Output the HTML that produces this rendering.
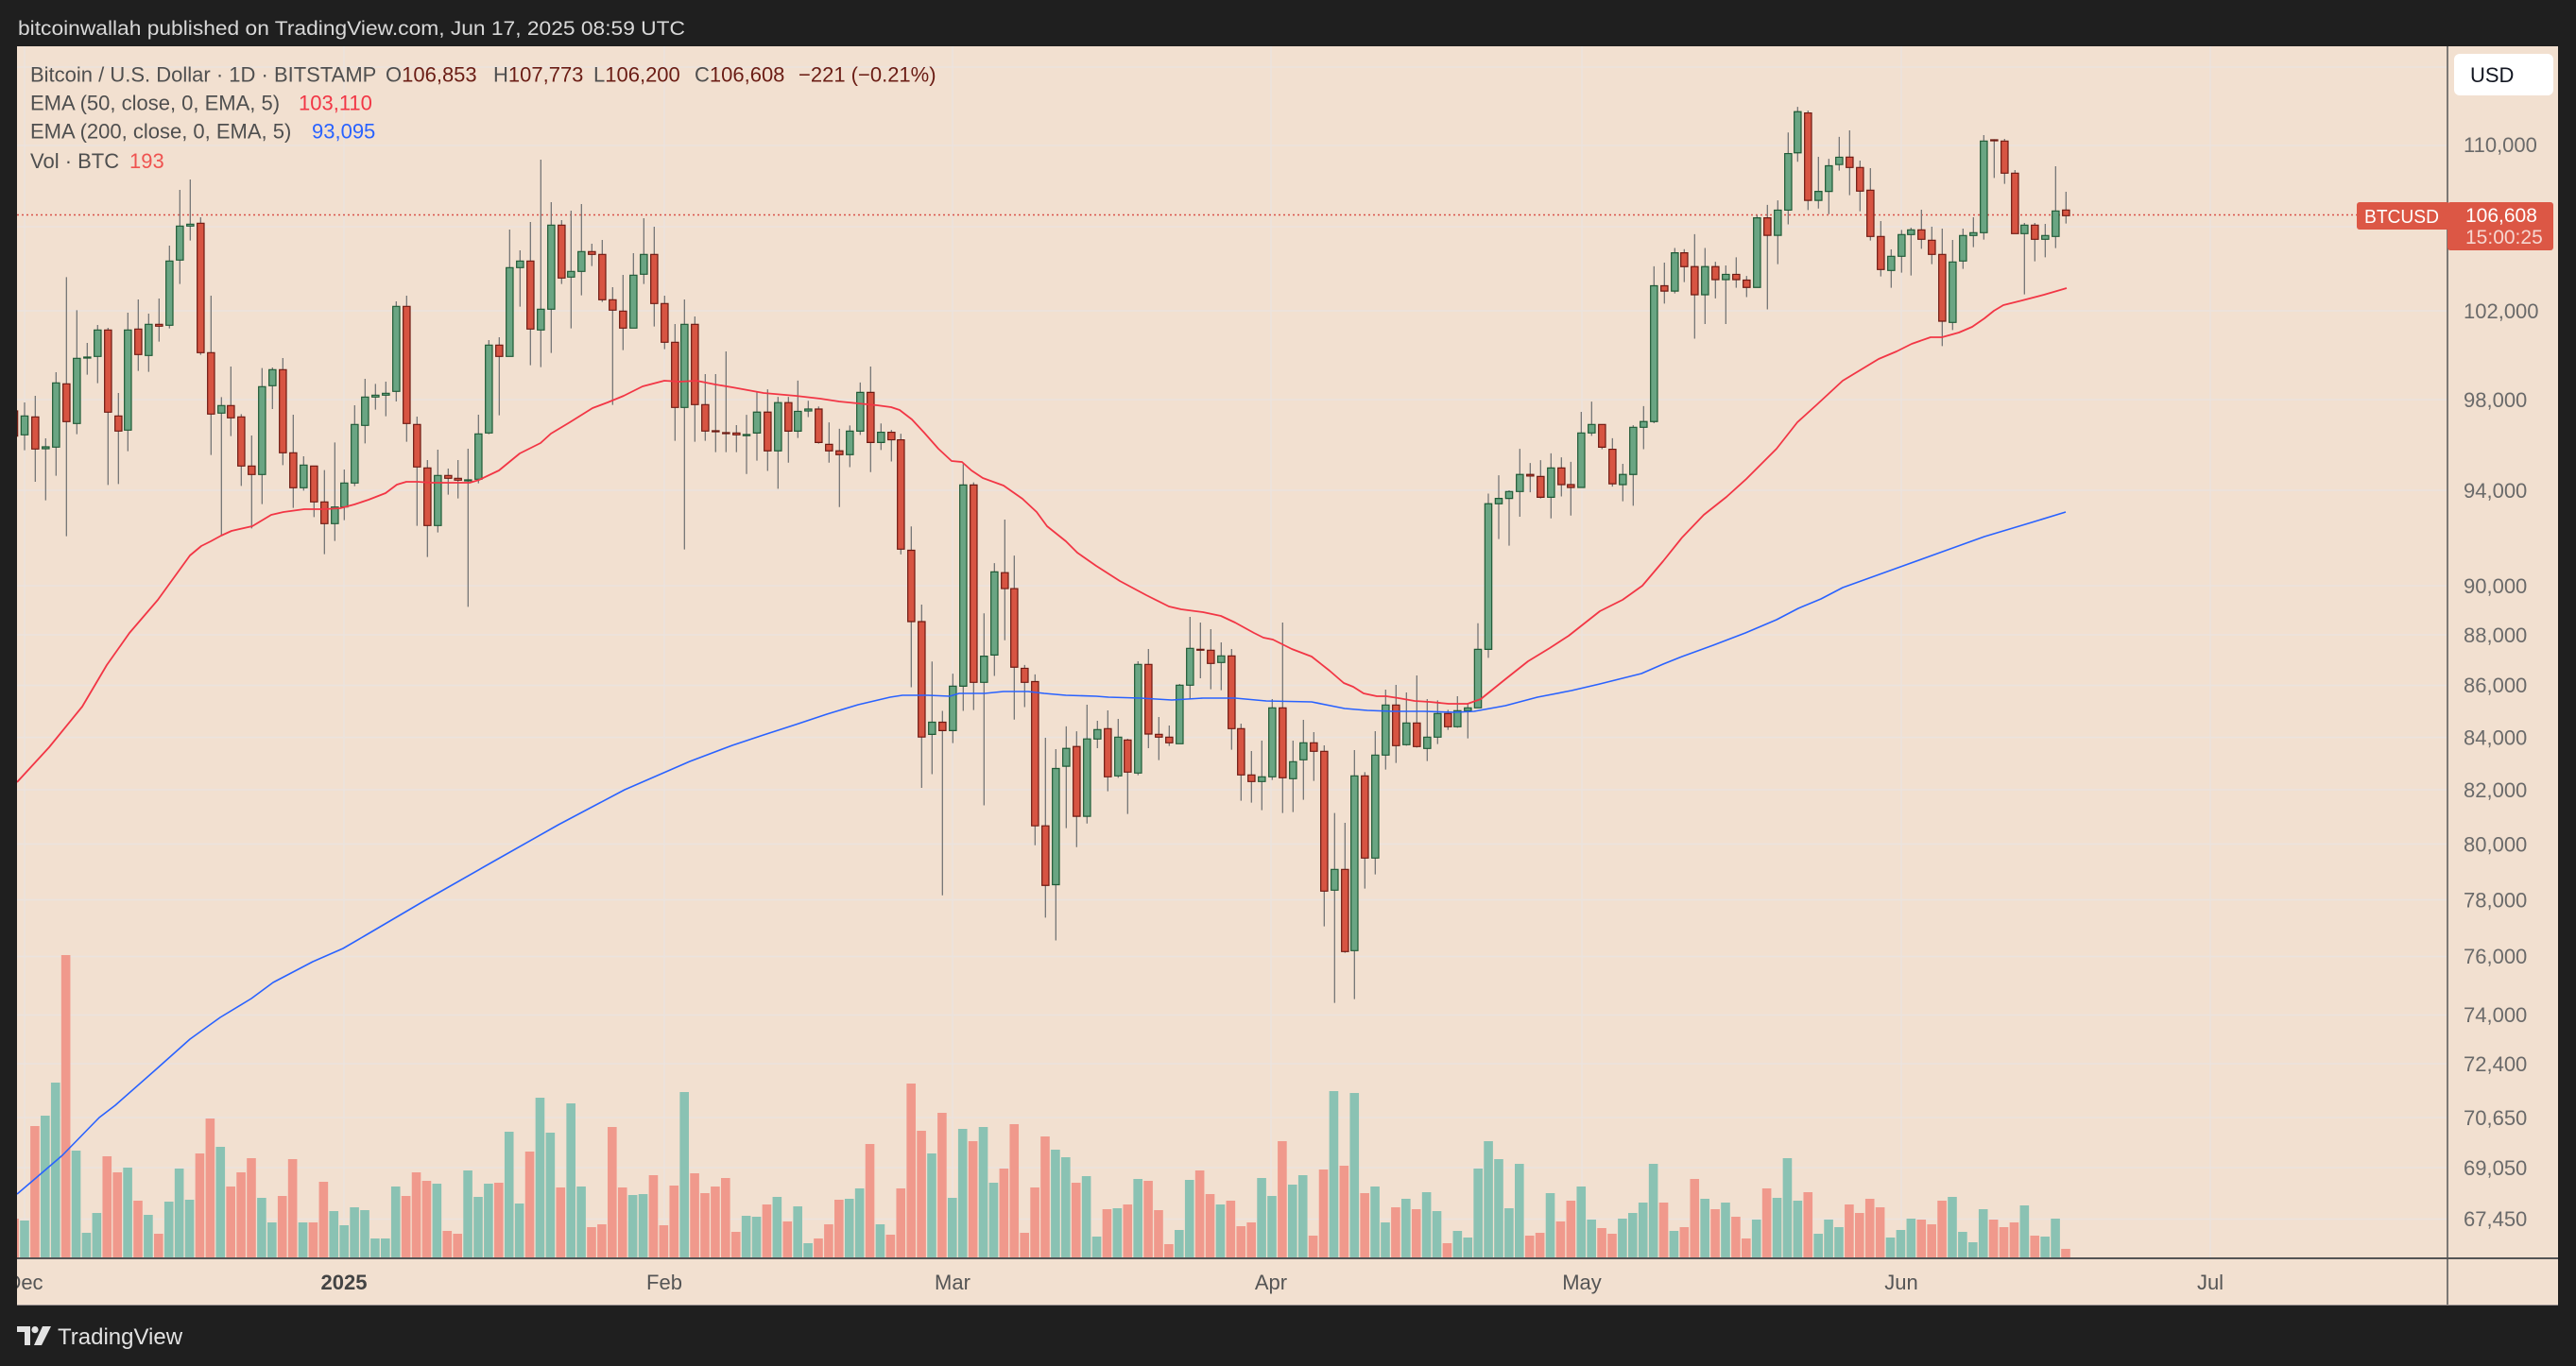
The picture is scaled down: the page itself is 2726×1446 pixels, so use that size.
<!DOCTYPE html>
<html><head><meta charset="utf-8"><style>
html,body{margin:0;padding:0;background:#1f1f1f;width:2726px;height:1446px;overflow:hidden}
svg{display:block;font-family:"Liberation Sans",Arial,sans-serif}
.w{fill:none;stroke:#767676;stroke-width:1.3px;vector-effect:non-scaling-stroke}
.u{fill:#6aa583;stroke:#1f5a36;stroke-width:1.2px;vector-effect:non-scaling-stroke}
.d{fill:#d75442;stroke:#6e1a12;stroke-width:1.2px;vector-effect:non-scaling-stroke}
.g{stroke:#ebe3de;stroke-width:1.5}
.lg{font-size:22px;fill:#4f4f4f}
.pa{font-size:22px;fill:#6a6a6a}
.ta{font-size:22px;fill:#555;text-anchor:middle}
</style></head><body>
<svg width="2726" height="1446" viewBox="0 0 2726 1446" xmlns="http://www.w3.org/2000/svg">
<defs>
<clipPath id="c"><rect x="18" y="49" width="2572" height="1283"/></clipPath>
<clipPath id="t"><rect x="18" y="1333" width="2572" height="49"/></clipPath>
</defs>
<rect width="2726" height="1446" fill="#1f1f1f"/>
<text x="19" y="37" font-size="21" fill="#d8d8d8" textLength="706" lengthAdjust="spacingAndGlyphs">bitcoinwallah published on TradingView.com, Jun 17, 2025 08:59 UTC</text>
<rect x="18" y="49" width="2689" height="1333" fill="#f2e0d0"/>
<g clip-path="url(#c)">
<g class="g">
<line x1="18" x2="2590" y1="71" y2="71"/><line x1="18" x2="2590" y1="154" y2="154"/><line x1="18" x2="2590" y1="240" y2="240"/><line x1="18" x2="2590" y1="329" y2="329"/><line x1="18" x2="2590" y1="423" y2="423"/><line x1="18" x2="2590" y1="519" y2="519"/><line x1="18" x2="2590" y1="620" y2="620"/><line x1="18" x2="2590" y1="672" y2="672"/><line x1="18" x2="2590" y1="725.5" y2="725.5"/><line x1="18" x2="2590" y1="780.5" y2="780.5"/><line x1="18" x2="2590" y1="836" y2="836"/><line x1="18" x2="2590" y1="893.5" y2="893.5"/><line x1="18" x2="2590" y1="952.5" y2="952.5"/><line x1="18" x2="2590" y1="1012.5" y2="1012.5"/><line x1="18" x2="2590" y1="1074.5" y2="1074.5"/><line x1="18" x2="2590" y1="1126" y2="1126"/><line x1="18" x2="2590" y1="1183" y2="1183"/><line x1="18" x2="2590" y1="1236" y2="1236"/><line x1="18" x2="2590" y1="1290.5" y2="1290.5"/>
<line y1="49" y2="1332" x1="26" x2="26"/><line y1="49" y2="1332" x1="364" x2="364"/><line y1="49" y2="1332" x1="703" x2="703"/><line y1="49" y2="1332" x1="1008" x2="1008"/><line y1="49" y2="1332" x1="1345" x2="1345"/><line y1="49" y2="1332" x1="1674" x2="1674"/><line y1="49" y2="1332" x1="2012" x2="2012"/><line y1="49" y2="1332" x1="2339" x2="2339"/>
</g>
<g transform="translate(26,990) scale(10.909,0.333333)" fill="none" stroke-width=".88">
<path stroke="#8ac2b3" d="M0 906V1100M2 573V1100M3 468V1100M5 684V1100M6 945V1100M7 882V1100M10 738V1100M12 888V1100M14 846V1100M15 741V1100M16 840V1100M19 672V1100M23 834V1100M24 912V1100M27 912V1100M30 876V1100M31 921V1100M32 864V1100M33 873V1100M34 963V1100M35 963V1100M36 798V1100M40 789V1100M43 747V1100M44 831V1100M45 789V1100M47 624V1100M48 852V1100M50 516V1100M51 627V1100M53 534V1100M54 798V1100M59 825V1100M60 822V1100M64 498V1100M70 891V1100M71 894V1100M73 831V1100M75 861V1100M76 978V1100M80 837V1100M81 804V1100M83 918V1100M88 693V1100M90 834V1100M91 615V1100M93 609V1100M94 786V1100M100 681V1100M101 705V1100M103 765V1100M104 957V1100M106 867V1100M108 774V1100M112 936V1100M113 777V1100M116 855V1100M120 771V1100M121 828V1100M123 792V1100M124 762V1100M127 495V1100M129 501V1100M131 798V1100M132 912V1100M134 837V1100M136 816V1100M137 876V1100M139 939V1100M140 960V1100M141 741V1100M142 654V1100M143 711V1100M144 867V1100M145 726V1100M148 819V1100M151 798V1100M152 903V1100M155 900V1100M156 882V1100M157 849V1100M158 726V1100M160 939V1100M163 837V1100M165 849V1100M168 903V1100M170 834V1100M171 708V1100M172 843V1100M174 948V1100M175 903V1100M176 927V1100M181 960V1100M182 936V1100M183 900V1100M187 831V1100M188 942V1100M189 975V1100M190 870V1100M194 858V1100M196 957V1100M197 900V1100"/>
<path stroke="#f0998c" d="M-1 900V1100M1 606V1100M4 63V1100M8 702V1100M9 753V1100M11 843V1100M13 948V1100M17 693V1100M18 582V1100M20 798V1100M21 753V1100M22 708V1100M25 828V1100M26 711V1100M28 912V1100M29 783V1100M37 828V1100M38 753V1100M39 780V1100M41 939V1100M42 948V1100M46 786V1100M49 687V1100M52 801V1100M55 927V1100M56 918V1100M57 609V1100M58 801V1100M61 762V1100M62 921V1100M63 795V1100M65 756V1100M66 819V1100M67 798V1100M68 771V1100M69 942V1100M72 855V1100M74 909V1100M77 963V1100M78 918V1100M79 840V1100M82 663V1100M84 951V1100M85 804V1100M86 471V1100M87 621V1100M89 564V1100M92 654V1100M95 741V1100M96 600V1100M97 945V1100M98 801V1100M99 639V1100M102 786V1100M105 870V1100M107 855V1100M109 780V1100M110 873V1100M111 981V1100M114 747V1100M115 822V1100M117 843V1100M118 924V1100M119 912V1100M122 654V1100M125 954V1100M126 744V1100M128 732V1100M130 819V1100M133 864V1100M135 870V1100M138 978V1100M146 954V1100M147 945V1100M149 909V1100M150 843V1100M153 930V1100M154 948V1100M159 849V1100M161 927V1100M162 774V1100M164 870V1100M166 894V1100M167 963V1100M169 804V1100M173 816V1100M177 855V1100M178 882V1100M179 837V1100M180 864V1100M184 903V1100M185 918V1100M186 843V1100M191 903V1100M192 927V1100M193 912V1100M195 954V1100M198 996V1100"/>
</g>
<line x1="18" x2="2494" y1="227.5" y2="227.5" stroke="#d9534a" stroke-width="1.5" stroke-dasharray="2 3"/>
<!-- Z6 -->
<g transform="translate(10,150) scale(.333333)">
<path class="w" d="M15 830V960M48 828V980M82 807V1080M115 942V1139M148 732V1061M181 430V1253M214 535V929M247 639V740M280 582V767M313 591V1090M346 798V1087M376 543V983M409 501V728M442 546V731M475 498V635M508 330V593M541 153V452M574 120V314M607 240V677M640 489V995M673 811V1250M703 714V935M736 865V1093M769 933V1228M802 719V1151M835 717V849M868 687V1027M901 867V1163M934 999V1108M967 1030V1192M1000 1043V1310M1033 955V1268M1063 1041V1202M1096 837V1094M1129 753V958M1162 769V851"/>
<path class="u" d="M48 871m-11 0h22V931h-22zM115 969m-11 0h22V975h-22zM148 766m-11 0h22V970h-22zM214 688m-11 0h22V895h-22zM247 684m-11 0h22V687h-22zM280 598m-11 0h22V682h-22zM376 598m-11 0h22V916h-22zM442 580m-11 0h22V679h-22zM508 379m-11 0h22V583h-22zM541 268m-11 0h22V376h-22zM574 262m-11 0h22V268h-22zM673 838m-11 0h22V862h-22zM802 778m-11 0h22V1057h-22zM835 724m-11 0h22V775h-22zM934 1027m-11 0h22V1099h-22zM1033 1160m-11 0h22V1213h-22zM1063 1084m-11 0h22V1160h-22zM1096 898m-11 0h22V1084h-22zM1129 811m-11 0h22V901h-22zM1162 805m-11 0h22V811h-22z"/>
<path class="d" d="M15 855m-11 0h22V935h-22zM82 874m-11 0h22V976h-22zM181 769m-11 0h22V889h-22zM313 598m-11 0h22V859h-22zM346 871m-11 0h22V919h-22zM409 595m-11 0h22V676h-22zM475 580m-11 0h22V586h-22zM607 259m-11 0h22V670h-22zM640 670m-11 0h22V865h-22zM703 838m-11 0h22V877h-22zM736 874m-11 0h22V1030h-22zM769 1030m-11 0h22V1057h-22zM868 724m-11 0h22V988h-22zM901 988m-11 0h22V1099h-22zM967 1030m-11 0h22V1144h-22zM1000 1144m-11 0h22V1213h-22z"/>
</g>
<!-- Z7 -->
<g transform="translate(390,150) scale(.333333)">
<path class="w" d="M55 762V872M88 507V825M121 489V953M154 873V1220M187 1011V1319M220 978V1241M253 1038V1121M284 1011V1133M316 975V1477M349 867V1085M382 630V929M415 621V869M448 279V682M481 345V524M514 255V710M547 57V716M580 192V671M613 249V452M643 219V593M676 198V488M709 324V395M742 312V509M775 462V836M808 423V662M841 354V592M874 243V452M907 270V587M940 489V659M973 579V950M1003 501V1295M1036 555V953M1069 738V950M1102 738V986M1135 666V986M1168 900V986"/>
<path class="u" d="M55 799m-11 0h22V805h-22zM88 523m-11 0h22V793h-22zM220 1060m-11 0h22V1219h-22zM316 1074m-11 0h22V1077h-22zM349 928m-11 0h22V1072h-22zM382 646m-11 0h22V925h-22zM448 400m-11 0h22V682h-22zM481 379m-11 0h22V400h-22zM547 532m-11 0h22V598h-22zM580 265m-11 0h22V532h-22zM643 412m-11 0h22V430h-22zM676 349m-11 0h22V412h-22zM841 424m-11 0h22V592h-22zM874 358m-11 0h22V421h-22zM1003 580m-11 0h22V844h-22z"/>
<path class="d" d="M121 523m-11 0h22V895h-22zM154 898m-11 0h22V1033h-22zM187 1036m-11 0h22V1219h-22zM253 1060m-11 0h22V1069h-22zM284 1069m-11 0h22V1075h-22zM415 646m-11 0h22V682h-22zM514 379m-11 0h22V595h-22zM613 265m-11 0h22V433h-22zM709 349m-11 0h22V358h-22zM742 358m-11 0h22V502h-22zM775 502m-11 0h22V535h-22zM808 538m-11 0h22V592h-22zM907 358m-11 0h22V514h-22zM940 514m-11 0h22V637h-22zM973 637m-11 0h22V844h-22zM1036 580m-11 0h22V835h-22zM1069 835m-11 0h22V919h-22zM1102 918m-11 0h22V921h-22zM1135 924m-11 0h22V927h-22zM1168 925m-11 0h22V931h-22z"/>
</g>
<!-- Z8 -->
<g transform="translate(775,380) scale(.333333,.401786)">
<path class="w" d="M45 147V303M78 87V268M112 80V295M145 100V342M178 100V273M208 57V208M241 110V153M274 125V223M307 167V273M340 184V390M373 175V285M406 62V200M439 20V298M472 170V240M505 187V270M535 197V515M568 441V865M601 647V1130M634 797V1094M667 927V1413M700 829V1012M733 277V927M766 325V925M799 670V1176M832 538V835M865 423V741M895 518V950M928 806V917M961 831V1281M994 998V1472M1027 1028V1532M1060 968V1236M1093 981V1286M1126 911V1224"/>
<path class="u" d="M45 199m-11 0h22V202h-22zM78 140m-11 0h22V195h-22zM145 115m-11 0h22V242h-22zM208 138m-11 0h22V190h-22zM241 132m-11 0h22V137h-22zM373 190m-11 0h22V252h-22zM406 88m-11 0h22V190h-22zM472 193m-11 0h22V220h-22zM634 957m-11 0h22V989h-22zM700 862m-11 0h22V979h-22zM733 332m-11 0h22V862h-22zM799 783m-11 0h22V852h-22zM832 561m-11 0h22V780h-22zM1027 1079m-11 0h22V1385h-22zM1060 1026m-11 0h22V1073h-22zM1126 1001m-11 0h22V1205h-22z"/>
<path class="d" d="M112 140m-11 0h22V242h-22zM178 115m-11 0h22V190h-22zM274 132m-11 0h22V220h-22zM307 225m-11 0h22V242h-22zM340 242m-11 0h22V252h-22zM439 88m-11 0h22V220h-22zM505 193m-11 0h22V213h-22zM535 213m-11 0h22V501h-22zM568 504m-11 0h22V692h-22zM601 692m-11 0h22V996h-22zM667 957m-11 0h22V979h-22zM766 332m-11 0h22V852h-22zM865 563m-11 0h22V605h-22zM895 605m-11 0h22V812h-22zM928 815m-11 0h22V852h-22zM961 850m-11 0h22V1230h-22zM994 1230m-11 0h22V1387h-22zM1093 1021m-11 0h22V1205h-22z"/>
</g>
<!-- Z9 -->
<g transform="translate(1140,630) scale(.333333)">
<path class="w" d="M64 399V486M97 366V623M130 393V580M160 456V695M193 210V572M226 171V486M259 387V524M292 414V479M325 282V472M358 69V328M391 87V264M424 108V299M457 150V302M490 171V491M520 408V653M553 495V659M586 462V683M619 330V587M652 87V692M685 462V689M718 396V650M751 435V590M784 477V1052M817 692V1295M850 723V1136M880 492V1283M913 562V932M946 432V887M979 300V554M1012 285V533M1045 309V478M1078 255V484M1111 330V527M1144 334V473M1177 364V428M1207 321V421M1240 346V455"/>
<path class="u" d="M64 427m-11 0h22V457h-22zM130 451m-11 0h22V574h-22zM193 220m-11 0h22V565h-22zM325 286m-11 0h22V472h-22zM358 169m-11 0h22V286h-22zM457 193m-11 0h22V214h-22zM586 577m-11 0h22V592h-22zM619 358m-11 0h22V577h-22zM685 529m-11 0h22V583h-22zM718 469m-11 0h22V523h-22zM817 871m-11 0h22V937h-22zM880 574m-11 0h22V1129h-22zM946 508m-11 0h22V835h-22zM979 349m-11 0h22V508h-22zM1045 406m-11 0h22V475h-22zM1111 451m-11 0h22V487h-22zM1144 376m-11 0h22V451h-22zM1207 367m-11 0h22V418h-22zM1240 358m-11 0h22V367h-22z"/>
<path class="d" d="M97 424m-11 0h22V577h-22zM160 460m-11 0h22V562h-22zM226 220m-11 0h22V441h-22zM259 442m-11 0h22V451h-22zM292 451m-11 0h22V469h-22zM391 172m-11 0h22V175h-22zM424 175m-11 0h22V217h-22zM490 193m-11 0h22V424h-22zM520 424m-11 0h22V571h-22zM553 571m-11 0h22V592h-22zM652 358m-11 0h22V580h-22zM751 469m-11 0h22V496h-22zM784 496m-11 0h22V940h-22zM850 871m-11 0h22V1132h-22zM913 574m-11 0h22V835h-22zM1012 349m-11 0h22V478h-22zM1078 406m-11 0h22V481h-22zM1177 376m-11 0h22V418h-22z"/>
</g>
<!-- Z10 -->
<g transform="translate(1560,95) scale(.333333,.430485)">
<path class="w" d="M12 1312V1520M45 993V1397M78 948V1105M111 985V1121M145 883V1050M178 918V990M211 911V1005M244 894V1054M277 904V1000M307 915V1047M340 792V978M373 767V851M406 823V884M439 857V976M472 920V1012M505 825V1023M538 778V884M571 434V820M604 425V526M637 389V501M667 392V473M700 355V612M733 389V576M766 423V513M799 432V576M832 412V487M865 458V510M898 308V486M931 283V540M964 272V429M997 105V331M1027 42V177M1060 51V296M1093 165V292M1126 170V306M1159 116V199"/>
<path class="u" d="M12 1376m-11 0h22V1520h-22zM45 1018m-11 0h22V1376h-22zM78 1005m-11 0h22V1018h-22zM111 988m-11 0h22V1005h-22zM145 946m-11 0h22V988h-22zM244 930m-11 0h22V1002h-22zM340 844m-11 0h22V978h-22zM373 823m-11 0h22V844h-22zM472 946m-11 0h22V971h-22zM505 830m-11 0h22V946h-22zM538 816m-11 0h22V830h-22zM571 482m-11 0h22V816h-22zM637 401m-11 0h22V495h-22zM733 435m-11 0h22V504h-22zM799 454m-11 0h22V467h-22zM898 315m-11 0h22V486h-22zM964 296m-11 0h22V358h-22zM997 157m-11 0h22V296h-22zM1027 54m-11 0h22V155h-22zM1093 250m-11 0h22V272h-22zM1126 187m-11 0h22V250h-22zM1159 166m-11 0h22V184h-22z"/>
<path class="d" d="M178 946m-11 0h22V950h-22zM211 951m-11 0h22V1002h-22zM277 930m-11 0h22V971h-22zM307 971m-11 0h22V978h-22zM406 823m-11 0h22V879h-22zM439 884m-11 0h22V969h-22zM604 482m-11 0h22V495h-22zM667 401m-11 0h22V435h-22zM700 435m-11 0h22V504h-22zM766 435m-11 0h22V467h-22zM832 454m-11 0h22V467h-22zM865 468m-11 0h22V486h-22zM931 315m-11 0h22V358h-22zM1060 57m-11 0h22V272h-22z"/>
</g>
<!-- Z11 -->
<g transform="translate(1940,100) scale(.333333)">
<path class="w" d="M52 114V320M85 210V371M118 234V464M151 402V578M184 492V614M217 430V566M247 423V575M280 366V490M313 420V539M346 426V799M379 462V748M412 426V554M445 390V485M478 129V461M511 142V265M544 141V284M577 240V442M607 408V635M640 408V530M673 411V517M706 228V488M739 309V410"/>
<path class="u" d="M184 514m-11 0h22V559h-22zM217 445m-11 0h22V514h-22zM247 430m-11 0h22V445h-22zM379 532m-11 0h22V724h-22zM412 448m-11 0h22V529h-22zM445 439m-11 0h22V448h-22zM478 148m-11 0h22V439h-22zM607 415m-11 0h22V442h-22zM673 448m-11 0h22V460h-22zM706 370m-11 0h22V451h-22z"/>
<path class="d" d="M52 199m-11 0h22V232h-22zM85 232m-11 0h22V307h-22zM118 304m-11 0h22V451h-22zM151 451m-11 0h22V556h-22zM280 430m-11 0h22V460h-22zM313 463m-11 0h22V508h-22zM346 508m-11 0h22V720h-22zM511 144m-11 0h22V147h-22zM544 148m-11 0h22V250h-22zM577 250m-11 0h22V442h-22zM640 415m-11 0h22V460h-22zM739 367m-11 0h22V385h-22z"/>
</g>
<polyline fill="none" stroke="#2962ff" stroke-width="1.6" stroke-linejoin="round" points="18,1264 38,1247 66,1223 105,1183 122,1170 164,1133 201,1100 233,1077 266,1057 289,1040 331,1018 363,1004 387,990 450,953 522,912 591,873 661,836 730,806 775,789 808,778 842,767 875,756 908,746 942,738 955,736 982,736 1005,737 1015,734 1042,734 1062,732 1088,732 1105,734 1128,736 1160,737 1173,738 1207,739 1240,741 1273,739 1307,739 1340,742 1388,743 1423,750 1447,752 1473,753 1507,753 1540,754 1560,753 1593,747 1627,738 1663,731 1693,724 1737,713 1760,703 1780,695 1813,683 1847,670 1880,656 1903,644 1927,634 1950,622 2000,604 2050,586 2100,568 2150,553 2186,542"/>
<polyline fill="none" stroke="#f23645" stroke-width="1.8" stroke-linejoin="round" points="18,828 52,791 87,748 113,704 137,670 167,635 201,588 213,578 223,573 234,567 245,562 267,557 287,545 300,542 322,539 343,539 360,538 375,534 390,529 408,522 420,513 430,510 442,510 457,511 473,511 497,511 507,508 528,498 550,480 572,469 583,459 603,447 627,432 643,426 660,419 680,409 703,403 720,404 737,403 757,407 775,410 808,416 842,419 868,422 888,425 908,427 928,429 943,431 952,434 965,444 978,458 993,475 1007,488 1018,489 1028,498 1040,506 1062,514 1082,528 1097,542 1108,557 1128,573 1140,585 1160,599 1185,615 1213,630 1237,642 1250,645 1273,648 1292,652 1307,659 1327,670 1337,675 1347,677 1367,687 1388,695 1407,710 1422,723 1432,727 1443,734 1457,737 1467,737 1480,739 1497,742 1513,743 1533,745 1553,745 1567,740 1593,719 1617,700 1640,686 1660,673 1693,647 1717,635 1738,620 1760,594 1780,569 1803,545 1827,526 1848,507 1860,495 1880,475 1902,447 1923,428 1950,403 1988,380 2007,372 2023,364 2043,357 2055,357 2073,352 2087,346 2100,337 2110,329 2120,323 2140,318 2163,312 2187,305"/>
</g>
<!-- legend -->
<text class="lg" x="32" y="86.5">Bitcoin / U.S. Dollar · 1D · BITSTAMP</text>
<text class="lg" x="408" y="86.5">O<tspan style="fill:#6b1d15">106,853</tspan></text>
<text class="lg" x="522" y="86.5">H<tspan style="fill:#6b1d15">107,773</tspan></text>
<text class="lg" x="628" y="86.5">L<tspan style="fill:#6b1d15">106,200</tspan></text>
<text class="lg" x="735" y="86.5">C<tspan style="fill:#6b1d15">106,608</tspan></text>
<text class="lg" x="845" y="86.5" style="fill:#6b1d15">−221 (−0.21%)</text>
<text class="lg" x="32" y="116.5">EMA (50, close, 0, EMA, 5)</text>
<text class="lg" x="316" y="116.5" style="fill:#f23645">103,110</text>
<text class="lg" x="32" y="146.5">EMA (200, close, 0, EMA, 5)</text>
<text class="lg" x="330" y="146.5" style="fill:#2962ff">93,095</text>
<text class="lg" x="32" y="178">Vol · BTC</text>
<text class="lg" x="137" y="178" style="fill:#ef5350">193</text>
<!-- axes borders -->
<line x1="2590" x2="2590" y1="49" y2="1382" stroke="#555" stroke-width="1.5"/>
<line x1="18" x2="2707" y1="1332" y2="1332" stroke="#555" stroke-width="2"/>
<line x1="18" x2="2707" y1="1381.5" y2="1381.5" stroke="#9a9090" stroke-width="1"/>
<!-- price axis labels -->
<g class="pa">
<text x="2607" y="161">110,000</text>
<text x="2607" y="337">102,000</text>
<text x="2607" y="431">98,000</text>
<text x="2607" y="527">94,000</text>
<text x="2607" y="628">90,000</text>
<text x="2607" y="680">88,000</text>
<text x="2607" y="733">86,000</text>
<text x="2607" y="788.5">84,000</text>
<text x="2607" y="844">82,000</text>
<text x="2607" y="901.5">80,000</text>
<text x="2607" y="960.5">78,000</text>
<text x="2607" y="1020">76,000</text>
<text x="2607" y="1082">74,000</text>
<text x="2607" y="1134">72,400</text>
<text x="2607" y="1191">70,650</text>
<text x="2607" y="1244">69,050</text>
<text x="2607" y="1298">67,450</text>
</g>
<rect x="2597" y="57" width="105" height="44" rx="6" fill="#ffffff"/>
<text x="2614" y="87" font-size="22" fill="#131722">USD</text>
<rect x="2494" y="214" width="98" height="29" rx="3" fill="#dc5745"/>
<text x="2502" y="236" font-size="20" fill="#ffffff" textLength="79" lengthAdjust="spacingAndGlyphs">BTCUSD</text>
<rect x="2590" y="214" width="112" height="51" rx="3" fill="#dc5745"/>
<text x="2609" y="235" font-size="21" fill="#ffffff">106,608</text>
<text x="2609" y="258" font-size="21" fill="#f6d6d0">15:00:25</text>
<!-- time axis -->
<g clip-path="url(#t)">
<text class="ta" x="26" y="1365">Dec</text>
<text class="ta" x="364" y="1365" font-weight="bold" style="fill:#444">2025</text>
<text class="ta" x="703" y="1365">Feb</text>
<text class="ta" x="1008" y="1365">Mar</text>
<text class="ta" x="1345" y="1365">Apr</text>
<text class="ta" x="1674" y="1365">May</text>
<text class="ta" x="2012" y="1365">Jun</text>
<text class="ta" x="2339" y="1365">Jul</text>
</g>
<!-- footer logo -->
<g transform="translate(18,1404)" fill="#e2e2e2">
<path d="M0 0H14V20H8V6H0Z"/>
<circle cx="19" cy="3.6" r="3.6"/>
<path d="M27 0H36L26 20H18Z"/>
</g>
<text x="61" y="1423" font-size="24" fill="#e2e2e2">TradingView</text>
</svg>
</body></html>
